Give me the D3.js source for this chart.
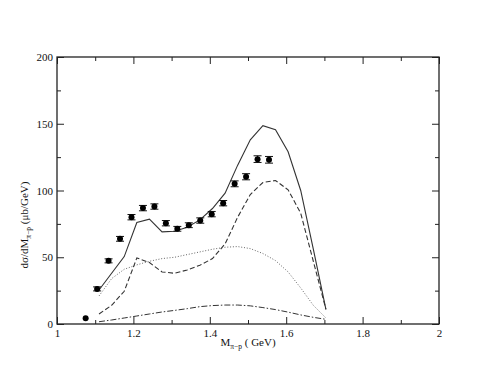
<!DOCTYPE html>
<html>
<head>
<meta charset="utf-8">
<script src="https://cdn.jsdelivr.net/npm/d3@7"></script>
<style>
  body { margin: 0; background: #fff; }
  svg text { font-family: "Liberation Serif", "DejaVu Serif", serif; }
</style>
</head>
<body>
<div id="chart"></div>
<script>
// data points (with errors)
const dataX = [1.075, 1.105, 1.135, 1.165, 1.195, 1.225, 1.255, 1.285, 1.315, 1.345, 1.375, 1.405, 1.435, 1.465, 1.495, 1.525, 1.555];
const dataY = [4.3, 26.3, 47.3, 63.8, 80, 86.8, 88, 75.5, 71.3, 74, 77.5, 82.3, 90.5, 105, 110.3, 123.5, 123];
const dataErr = [0, 1.5, 1.5, 1.8, 2, 2, 2, 2, 1.8, 1.8, 2, 2, 2, 2.2, 2.3, 2.5, 2.5];

// model curves
const curveX = [1.110, 1.143, 1.176, 1.209, 1.242, 1.275, 1.308, 1.341, 1.374, 1.407, 1.440, 1.473, 1.506, 1.539, 1.572, 1.605, 1.638, 1.671, 1.704];
const totalY = [25.5, 38, 50.5, 76, 78.5, 69, 69.5, 72.5, 78, 86.5, 98, 119, 138, 148.5, 145.5, 129, 100, 56, 11];
const dashedY = [7.5, 14, 24.5, 49.5, 46, 39, 38, 40.5, 44, 49, 60, 80, 97, 106, 107.5, 100.5, 83, 47, 11];
const dottedY = [21, 34, 41, 44.3, 47, 49, 50, 52, 54, 56, 57.5, 58, 56.5, 52.8, 47.5, 39, 27, 14, 4.5];
const dashDotY = [1.7, 3, 4.5, 6, 7.5, 9, 10.2, 11.5, 13, 13.8, 14.2, 14.2, 13.6, 12.3, 10.8, 8.9, 6.8, 5, 3.5];

const xTicks = [1, 1.2, 1.4, 1.6, 1.8, 2];
const xMinor = [1.1, 1.3, 1.5, 1.7, 1.9];
const yTicks = [0, 50, 100, 150, 200];
const yMinor = [25, 75, 125, 175];

const W = 494, H = 382;
const margin = { top: 57, right: 55, bottom: 58, left: 57 };
const width = W - margin.left - margin.right,
  height = H - margin.top - margin.bottom;

const svg = d3.select("#chart").append("svg")
  .attr("width", W).attr("height", H);
const g = svg.append("g")
  .attr("transform", "translate(" + margin.left + "," + margin.top + ")");

const x = d3.scaleLinear().domain([1, 2]).range([0, width]);
const y = d3.scaleLinear().domain([0, 200]).range([height, 0]);

// axes, ticks inward on all four sides
const fmt = d3.format("");
function styleAxis(sel) {
  sel.select(".domain").remove();
  sel.selectAll("line").attr("stroke", "#222").attr("stroke-width", 1);
  sel.selectAll("text").style("font-size", "11px").attr("fill", "#111");
}
g.append("g").attr("transform", "translate(0," + height + ")")
  .call(d3.axisBottom(x).tickValues(xTicks).tickSize(-7).tickPadding(5).tickFormat(fmt)).call(styleAxis);
g.append("g").attr("transform", "translate(0," + height + ")")
  .call(d3.axisBottom(x).tickValues(xMinor).tickSize(-4).tickFormat("")).call(styleAxis);
g.append("g")
  .call(d3.axisTop(x).tickValues(xTicks).tickSize(-7).tickFormat("")).call(styleAxis);
g.append("g")
  .call(d3.axisTop(x).tickValues(xMinor).tickSize(-4).tickFormat("")).call(styleAxis);
g.append("g")
  .call(d3.axisLeft(y).tickValues(yTicks).tickSize(-7).tickPadding(4).tickFormat(fmt)).call(styleAxis);
g.append("g")
  .call(d3.axisLeft(y).tickValues(yMinor).tickSize(-4).tickFormat("")).call(styleAxis);
g.append("g").attr("transform", "translate(" + width + ",0)")
  .call(d3.axisRight(y).tickValues(yTicks).tickSize(-7).tickFormat("")).call(styleAxis);
g.append("g").attr("transform", "translate(" + width + ",0)")
  .call(d3.axisRight(y).tickValues(yMinor).tickSize(-4).tickFormat("")).call(styleAxis);

g.append("rect")
  .attr("width", width).attr("height", height)
  .attr("fill", "none").attr("stroke", "#222").attr("stroke-width", 1.3);

// curves
const line = d3.line().x((d) => x(d[0])).y((d) => y(d[1]));
const curves = [
  { ys: totalY, dash: null, color: "#333", w: 1.1 },
  { ys: dashedY, dash: "5,2.5", color: "#333", w: 1.1 },
  { ys: dottedY, dash: "1,1.8", color: "#666", w: 1 },
  { ys: dashDotY, dash: "6,2,1.5,2", color: "#333", w: 1 }
];
curves.forEach((c) => {
  g.append("path")
    .datum(curveX.map((v, i) => [v, c.ys[i]]))
    .attr("d", line)
    .attr("fill", "none")
    .attr("stroke", c.color)
    .attr("stroke-width", c.w)
    .attr("stroke-dasharray", c.dash);
});

// data points with error bars
const pts = g.selectAll(".pt")
  .data(dataX.map((v, i) => ({ x: v, y: dataY[i], e: dataErr[i] })))
  .join("g").attr("class", "pt");
pts.filter((d) => d.e > 0).append("path")
  .attr("d", (d) => {
    const cx = x(d.x), y1 = y(d.y - d.e), y2 = y(d.y + d.e);
    return "M" + cx + "," + y1 + "V" + y2 +
      "M" + (cx - 4) + "," + y1 + "H" + (cx + 4) +
      "M" + (cx - 4) + "," + y2 + "H" + (cx + 4);
  })
  .attr("stroke", "#111").attr("stroke-width", 1).attr("fill", "none");
pts.append("circle")
  .attr("cx", (d) => x(d.x)).attr("cy", (d) => y(d.y))
  .attr("r", 3).attr("fill", "#000");

// axis labels
const xl = svg.append("text")
  .attr("x", 248).attr("y", 346)
  .attr("text-anchor", "middle")
  .style("font-size", "11px").attr("fill", "#111");
xl.append("tspan").text("M");
xl.append("tspan").attr("dy", 3).style("font-size", "7.5px").text("π−p");
xl.append("tspan").attr("dy", -3).text(" ( GeV)");

const yl = svg.append("text")
  .attr("transform", "translate(28,225) rotate(-90)")
  .attr("text-anchor", "middle")
  .style("font-size", "11px").attr("fill", "#111");
yl.append("tspan").text("dσ/dM");
yl.append("tspan").attr("dy", 3).style("font-size", "7.5px").text("π−p");
yl.append("tspan").attr("dy", -3).text(" (μb/GeV)");
</script>
</body>
</html>
